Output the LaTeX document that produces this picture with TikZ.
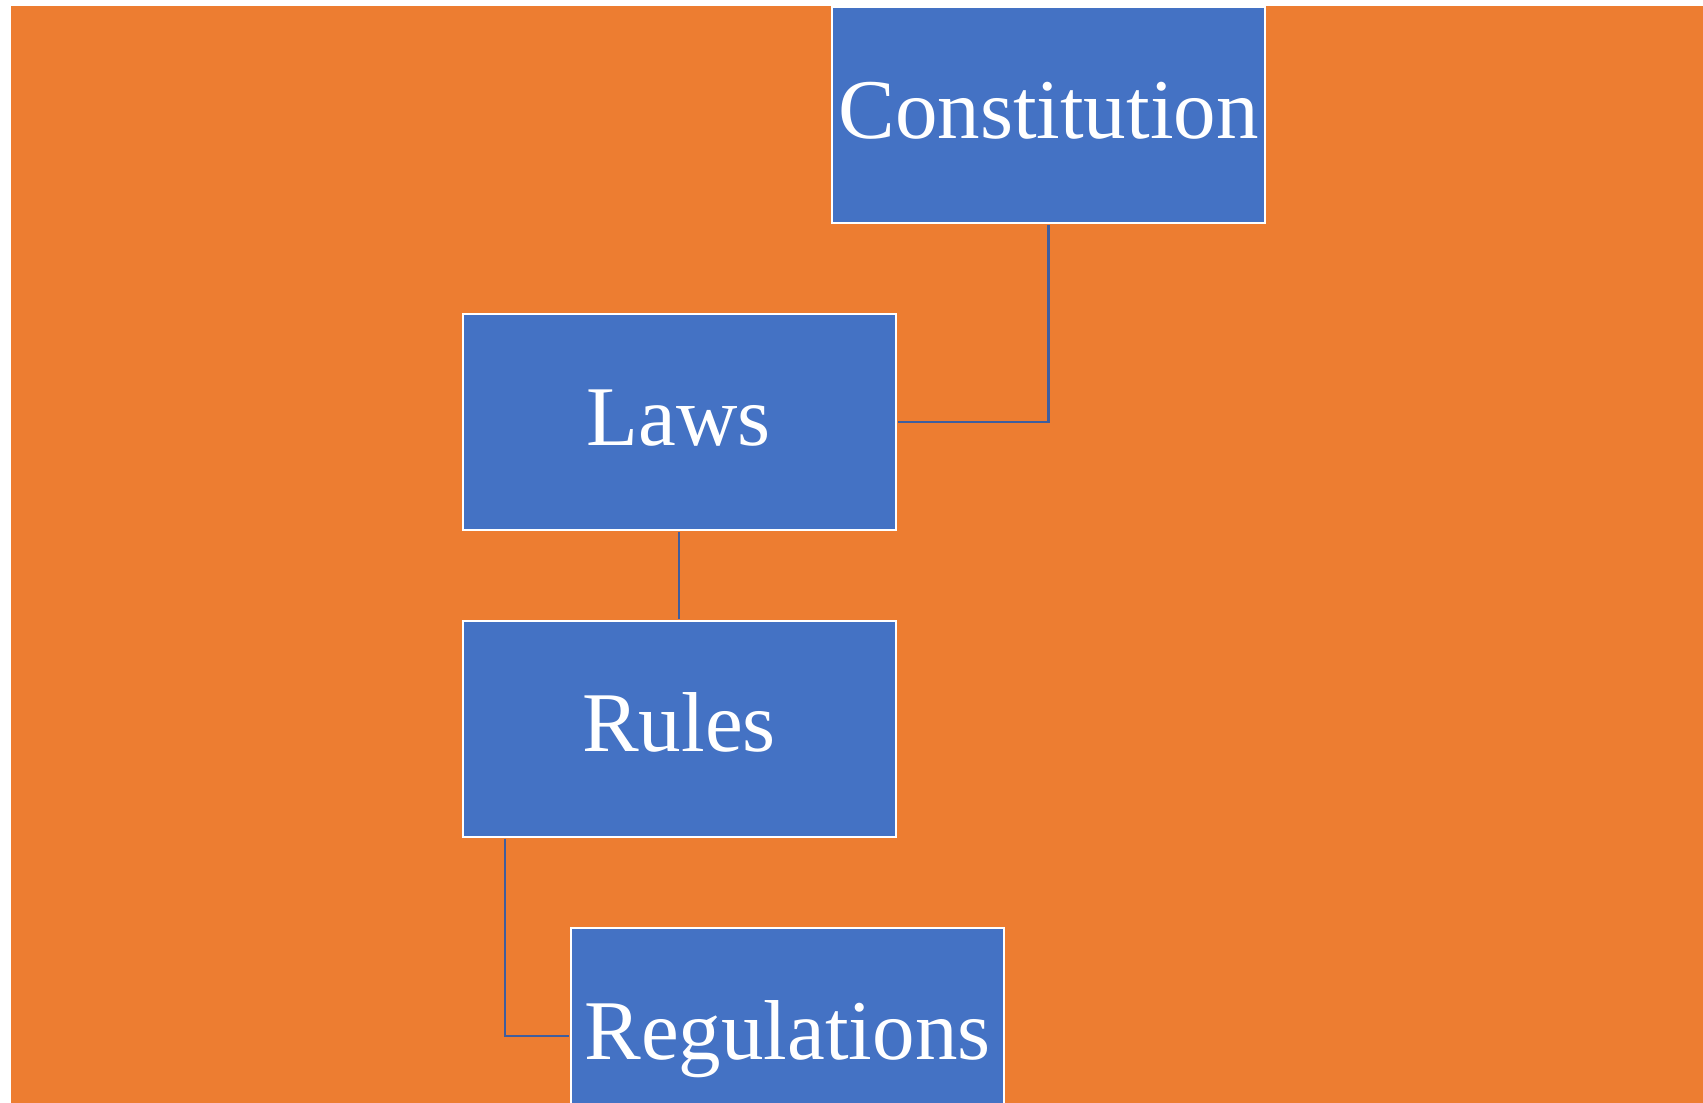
\documentclass[tikz,border=0pt]{standalone}
\usepackage{fontspec}
\setmainfont{Liberation Serif}
\usetikzlibrary{calc}
\definecolor{bgorange}{HTML}{ED7D31}
\definecolor{boxblue}{HTML}{4472C4}
\definecolor{linkblue}{HTML}{3F5E9E}
\tikzset{
  orgbox/.style={draw=white, line width=2pt, fill=boxblue, text=white,
    minimum width=433pt, minimum height=216pt, inner sep=0pt,
    font=\fontsize{85}{90}\selectfont, text height=56pt, text depth=10pt},
  link/.style={draw=linkblue, line width=2.2pt}
}
\begin{document}
\begin{tikzpicture}[x=1pt,y=-1pt]
\clip (0,0) rectangle (1703,1103);
\fill[white] (0,0) rectangle (1703,1103);
\fill[bgorange] (11,6) rectangle (1703,1103);
\node[orgbox] (cons) at (1048.5,115) {Constitution};
\node[orgbox] (laws) at (679,422) {Laws};
\node[orgbox] (rules) at (679,728.5) {Rules};
\node[orgbox] (regs) at (787.5,1036) {Regulations};
\coordinate (rfoot) at ($(rules.south west)+(43.5,1)$);
\draw[link] ($(cons.south)+(0,1)$) |- ($(laws.east)+(1,0)$);
\draw[link] ($(laws.south)+(0,1)$) -- ($(rules.north)+(0,-1)$);
\draw[link] (rfoot) |- ($(regs.west)+(-1,0)$);
\end{tikzpicture}
\end{document}
